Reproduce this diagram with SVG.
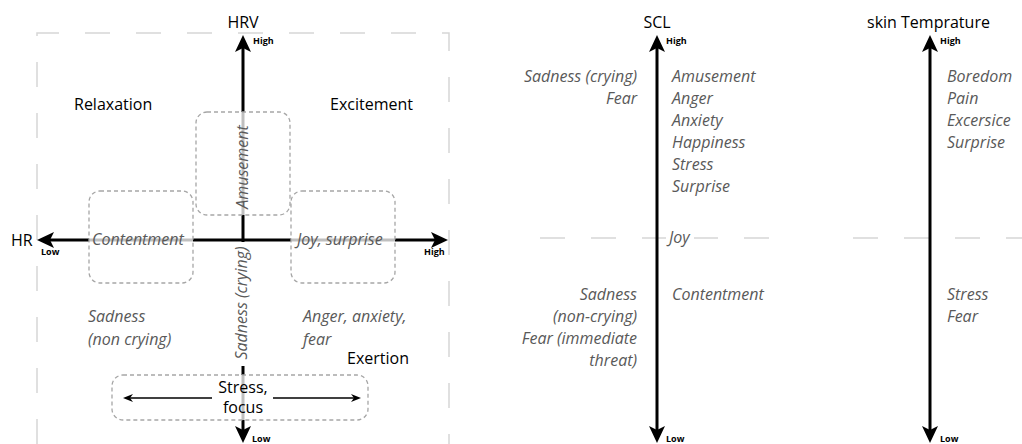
<svg xmlns="http://www.w3.org/2000/svg" width="1022" height="444" viewBox="0 0 1022 444">
<style>
.hd{font-family:"Open Sans","Liberation Sans",sans-serif;font-size:16px;fill:#000}
.it{font-family:"Open Sans","Liberation Sans",sans-serif;font-size:16px;font-style:italic;fill:#595959}
.sm{font-family:"Open Sans","Liberation Sans",sans-serif;font-size:9px;font-weight:bold;fill:#000}
.axis{stroke:#000;stroke-width:3;fill:none}
.thin{stroke:#000;stroke-width:1.5;fill:none}
.grid{stroke:#d6d6d6;stroke-width:1.5;fill:none;stroke-dasharray:25 26}
.box{stroke:#a6a6a6;stroke-width:1.3;stroke-dasharray:4 3;fill:#fff;fill-opacity:0.75}
</style>
<defs>
<marker id="big" markerUnits="userSpaceOnUse" viewBox="0 0 17 16" refX="4" refY="8" markerWidth="17" markerHeight="16" orient="auto-start-reverse">
<path d="M0,0 L17,8 L0,16 L4,8 z" fill="#000"/>
</marker>
<marker id="small" markerUnits="userSpaceOnUse" viewBox="0 0 10 8" refX="3" refY="4" markerWidth="10" markerHeight="8" orient="auto-start-reverse">
<path d="M0,0 L10,4 L0,8 L3,4 z" fill="#000"/>
</marker>
</defs>
<g id="grid">
<path class="grid" d="M37,444 V33 H449 V444"/>
<line class="grid" x1="540" y1="238" x2="775" y2="238"/>
<line class="grid" x1="853" y1="238" x2="1022" y2="238"/>
</g>
<g id="connectors">
<line class="axis" x1="243" y1="48" x2="243" y2="430" marker-start="url(#big)" marker-end="url(#big)"/>
<line class="axis" x1="50" y1="240" x2="435" y2="240" marker-start="url(#big)" marker-end="url(#big)"/>
<line class="axis" x1="657" y1="48" x2="657" y2="430" marker-start="url(#big)" marker-end="url(#big)"/>
<line class="axis" x1="930" y1="48" x2="930" y2="430" marker-start="url(#big)" marker-end="url(#big)"/>
</g>
<g id="axis-labels">
<text class="hd" x="243" y="28" text-anchor="middle">HRV</text>
<text class="sm" x="253" y="44">High</text>
<text class="sm" x="252" y="442">Low</text>
<text class="hd" x="11" y="246">HR</text>
<text class="sm" x="41" y="255">Low</text>
<text class="sm" x="424" y="255">High</text>
<text class="hd" x="657" y="28" text-anchor="middle">SCL</text>
<text class="sm" x="666" y="44">High</text>
<text class="sm" x="666" y="442">Low</text>
<text class="hd" x="867" y="28">skin Temprature</text>
<text class="sm" x="940" y="44">High</text>
<text class="sm" x="940" y="442">Low</text>
</g>
<g id="quadrants">
<text class="hd" x="74" y="110">Relaxation</text>
<text class="hd" x="330" y="110">Excitement</text>
<text class="hd" x="347" y="364">Exertion</text>
</g>
<g id="node-amusement">
<rect class="box" x="196" y="112" width="94" height="103" rx="11"/>
<text class="it" text-anchor="middle" transform="translate(248,167) rotate(-90)">Amusement</text>
</g>
<g id="node-contentment">
<rect class="box" x="89" y="191" width="104" height="92" rx="11"/>
<text class="it" x="92" y="245">Contentment</text>
</g>
<g id="node-joy">
<rect class="box" x="291" y="191" width="104" height="92" rx="11"/>
<text class="it" x="297" y="245">Joy, surprise</text>
</g>
<g id="node-sadness-crying">
<rect x="233" y="242" width="21" height="124" fill="#fff"/>
<text class="it" text-anchor="middle" transform="translate(247,303) rotate(-90)">Sadness (crying)</text>
</g>
<g id="node-sadness-noncrying">
<text class="it" x="88" y="322">Sadness</text>
<text class="it" x="88" y="345">(non crying)</text>
</g>
<g id="node-anger">
<text class="it" x="303" y="322">Anger, anxiety,</text>
<text class="it" x="303" y="345">fear</text>
</g>
<g id="node-stress">
<rect class="box" x="112" y="375" width="256" height="45" rx="11"/>
<line class="thin" x1="212" y1="398" x2="130" y2="398" marker-end="url(#small)"/>
<line class="thin" x1="273" y1="398" x2="354" y2="398" marker-end="url(#small)"/>
<text class="hd" x="243" y="393" text-anchor="middle">Stress,</text>
<text class="hd" x="243" y="413" text-anchor="middle">focus</text>
</g>
<g id="scl-high-left">
<text class="it" x="637" y="82" text-anchor="end">Sadness (crying)</text>
<text class="it" x="637" y="104" text-anchor="end">Fear</text>
</g>
<g id="scl-high-right">
<text class="it" x="672" y="82">Amusement</text>
<text class="it" x="672" y="104">Anger</text>
<text class="it" x="672" y="126">Anxiety</text>
<text class="it" x="672" y="148">Happiness</text>
<text class="it" x="672" y="170">Stress</text>
<text class="it" x="672" y="192">Surprise</text>
</g>
<g id="scl-joy">
<rect x="666" y="228" width="28" height="20" fill="#fff"/>
<text class="it" x="669" y="243">Joy</text>
</g>
<g id="scl-low-left">
<text class="it" x="637" y="300" text-anchor="end">Sadness</text>
<text class="it" x="637" y="322" text-anchor="end">(non-crying)</text>
<text class="it" x="637" y="344" text-anchor="end">Fear (immediate</text>
<text class="it" x="637" y="366" text-anchor="end">threat)</text>
</g>
<g id="scl-low-right">
<text class="it" x="672" y="300">Contentment</text>
</g>
<g id="skin-high">
<text class="it" x="947" y="82">Boredom</text>
<text class="it" x="947" y="104">Pain</text>
<text class="it" x="947" y="126">Excersice</text>
<text class="it" x="947" y="148">Surprise</text>
</g>
<g id="skin-low">
<text class="it" x="947" y="300">Stress</text>
<text class="it" x="947" y="322">Fear</text>
</g>
</svg>
